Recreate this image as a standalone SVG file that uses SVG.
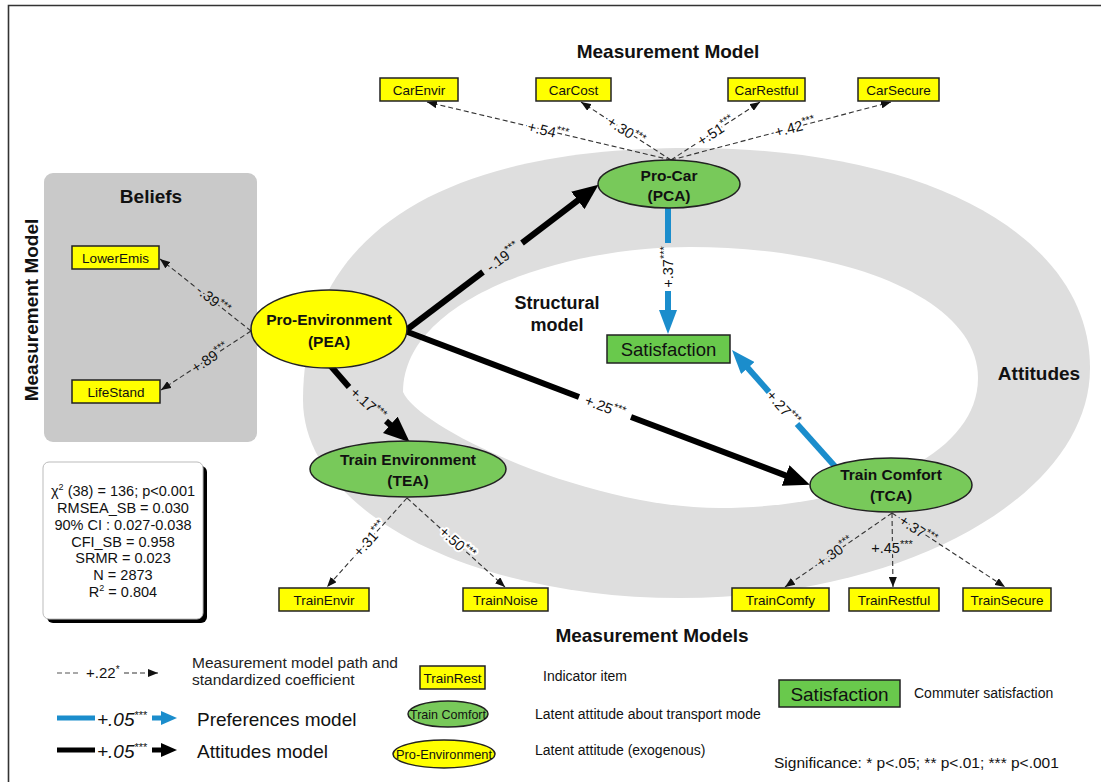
<svg xmlns="http://www.w3.org/2000/svg" width="1101" height="782" viewBox="0 0 1101 782">
<defs>
<style>
text{font-family:"Liberation Sans",Arial,sans-serif;fill:#111}
.ttl{font-size:19px;font-weight:bold;text-anchor:middle}
.box{fill:#ffff00;stroke:#222;stroke-width:1.5}
.bt{font-size:13.5px;text-anchor:middle}
.lat{fill:#78c95a;stroke:#222;stroke-width:1.5}
.exo{fill:#ffff00;stroke:#222;stroke-width:1.5}
.lt{font-size:15.5px;font-weight:bold;text-anchor:middle}
.meas{stroke:#333;stroke-width:1.1;stroke-dasharray:5 3;fill:none;marker-end:url(#ah)}
.str{stroke:#000;stroke-width:6;fill:none}
.strA{stroke:#000;stroke-width:6;fill:none;marker-end:url(#ahk)}
.pref{stroke:#1b8dcc;stroke-width:6;fill:none}
.prefA{stroke:#1b8dcc;stroke-width:6;fill:none;marker-end:url(#ahb)}
.lab{font-size:14.5px;text-anchor:middle;paint-order:stroke;stroke-width:4;stroke-linejoin:round}
.hw{stroke:#fff}
.hg{stroke:#dedede}
.hb{stroke:#c9c9c9}
.s{font-size:11px}
.fit{font-size:14.5px;text-anchor:middle}
.leg{font-size:14px}
</style>
<marker id="ah" viewBox="0 0 10 8" refX="10" refY="4" markerWidth="10" markerHeight="8" markerUnits="userSpaceOnUse" orient="auto"><path d="M0,0 L10,4 L0,8 z" fill="#111"/></marker>
<marker id="ahk" viewBox="0 0 26 22" refX="4" refY="11" markerWidth="26" markerHeight="22" markerUnits="userSpaceOnUse" orient="auto"><path d="M0,0 L26,11 L0,22 z" fill="#000"/></marker>
<marker id="ahb" viewBox="0 0 24 18" refX="4" refY="9" markerWidth="24" markerHeight="18" markerUnits="userSpaceOnUse" orient="auto"><path d="M0,0 L24,9 L0,18 z" fill="#1b8dcc"/></marker>
</defs>

<rect x="0" y="0" width="1101" height="782" fill="#fff"/>
<path d="M8.5,782 V5.5 H1101" fill="none" stroke="#333" stroke-width="1.6"/>

<g id="background">
<path d="M303,400 C303,236 438,148 690,148 C930,148 1090,237 1090,368 C1090,495 906,598 680,598 C472,598 303,512 303,400 Z" fill="#dedede"/>
<path d="M403,392 C403,300 560,247 690,247 C850,247 978,300 978,378 C978,460 850,508 720,508 C590,508 420,430 403,392 Z" fill="#fff"/>
<rect x="44" y="173" width="213" height="269" rx="9" fill="#c9c9c9"/>
</g>

<g id="titles">
<text class="ttl" x="668" y="58">Measurement Model</text>
<text class="ttl" x="652" y="642">Measurement Models</text>
<text class="ttl" transform="translate(38,310) rotate(-90)">Measurement Model</text>
<text class="ttl" x="151" y="203">Beliefs</text>
<text class="ttl" x="557" y="309" style="font-size:18px">Structural</text>
<text class="ttl" x="557" y="331" style="font-size:18px">model</text>
<text class="ttl" x="1039" y="380">Attitudes</text>
</g>

<g id="fit-stats">
<rect x="47" y="466" width="160" height="157" rx="6" fill="#000"/>
<rect x="43" y="462" width="160" height="157" rx="6" fill="#fff" stroke="#bbb" stroke-width="1"/>
<text class="fit" x="123" y="496">χ<tspan dy="-6" style="font-size:9px">2</tspan><tspan dy="6"> (38) = 136; p&lt;0.001</tspan></text>
<text class="fit" x="123" y="513">RMSEA_SB = 0.030</text>
<text class="fit" x="123" y="530">90% CI : 0.027-0.038</text>
<text class="fit" x="123" y="547">CFI_SB = 0.958</text>
<text class="fit" x="123" y="563">SRMR = 0.023</text>
<text class="fit" x="123" y="580">N = 2873</text>
<text class="fit" x="123" y="597">R<tspan dy="-6" style="font-size:9px">2</tspan><tspan dy="6"> = 0.804</tspan></text>
</g>

<g id="connectors">
<line class="meas" x1="671" y1="160" x2="427" y2="102"/>
<line class="meas" x1="671" y1="160" x2="581" y2="102"/>
<line class="meas" x1="671" y1="160" x2="760" y2="102"/>
<line class="meas" x1="671" y1="160" x2="891" y2="102"/>
<line class="meas" x1="251" y1="331" x2="160" y2="259"/>
<line class="meas" x1="251" y1="331" x2="161" y2="390"/>
<line class="meas" x1="407" y1="498" x2="327" y2="587"/>
<line class="meas" x1="407" y1="498" x2="505" y2="587"/>
<line class="meas" x1="892" y1="513" x2="785" y2="587"/>
<line class="meas" x1="892" y1="513" x2="893" y2="587"/>
<line class="meas" x1="892" y1="513" x2="1005" y2="587"/>
<line class="str" x1="405" y1="331" x2="483" y2="272"/>
<line class="strA" x1="522" y1="243" x2="581" y2="198"/>
<line class="str" x1="405" y1="331" x2="579" y2="397"/>
<line class="strA" x1="631" y1="417" x2="789.3" y2="476.9"/>
<line class="str" x1="329" y1="364" x2="349" y2="387"/>
<line class="strA" x1="386" y1="421" x2="393.3" y2="427.5"/>
<line class="pref" x1="668" y1="200" x2="668" y2="243"/>
<line class="prefA" x1="668" y1="291" x2="668" y2="314"/>
<line class="pref" x1="840" y1="472" x2="797" y2="424"/>
<line class="prefA" x1="769" y1="392" x2="745.2" y2="365"/>

<text class="lab hw" transform="translate(548,131) rotate(13.6)" y="5">+.54<tspan class="s" dy="-5">***</tspan></text>
<text class="lab hw" transform="translate(626,131) rotate(32.8)" y="5">+.30<tspan class="s" dy="-5">***</tspan></text>
<text class="lab hw" transform="translate(716,131) rotate(-33)" y="5">+.51<tspan class="s" dy="-5">***</tspan></text>
<text class="lab hw" transform="translate(795,127) rotate(-14.8)" y="5">+.42<tspan class="s" dy="-5">***</tspan></text>
<text class="lab hb" transform="translate(213,300) rotate(38.7)" y="5">-.39<tspan class="s" dy="-5">***</tspan></text>
<text class="lab hb" transform="translate(210,358) rotate(-33.2)" y="5">+.89<tspan class="s" dy="-5">***</tspan></text>
<text class="lab hw" transform="translate(370,539) rotate(-48)" y="5">+.31<tspan class="s" dy="-5">***</tspan></text>
<text class="lab hw" transform="translate(457,543) rotate(42.2)" y="5">+.50<tspan class="s" dy="-5">***</tspan></text>
<text class="lab hg" transform="translate(835,552) rotate(-34.7)" y="5">+.30<tspan class="s" dy="-5">***</tspan></text>
<text class="lab hg" transform="translate(892,548)" y="5">+.45<tspan class="s" dy="-5">***</tspan></text>
<text class="lab hg" transform="translate(918,530) rotate(33.2)" y="5">+.37<tspan class="s" dy="-5">***</tspan></text>
<text class="lab" transform="translate(503,257) rotate(-37)" y="5">-.19<tspan class="s" dy="-5">***</tspan></text>
<text class="lab" transform="translate(605,407) rotate(20.8)" y="5">+.25<tspan class="s" dy="-5">***</tspan></text>
<text class="lab" transform="translate(368,404) rotate(42.6)" y="5">+.17<tspan class="s" dy="-5">***</tspan></text>
<text class="lab" transform="translate(668,267) rotate(-90)" y="5">+.37<tspan class="s" dy="-5">***</tspan></text>
<text class="lab" transform="translate(783,408) rotate(48.6)" y="5">+.27<tspan class="s" dy="-5">***</tspan></text>
</g>

<g id="CarEnvir"><rect class="box" x="380" y="78" width="78" height="23"/><text class="bt" x="419" y="94.5">CarEnvir</text></g>
<g id="CarCost"><rect class="box" x="536" y="78" width="75" height="23"/><text class="bt" x="573.5" y="94.5">CarCost</text></g>
<g id="CarRestful"><rect class="box" x="728" y="78" width="77" height="23"/><text class="bt" x="766.5" y="94.5">CarRestful</text></g>
<g id="CarSecure"><rect class="box" x="858" y="78" width="81" height="23"/><text class="bt" x="898.5" y="94.5">CarSecure</text></g>
<g id="LowerEmis"><rect class="box" x="72" y="246" width="87" height="23"/><text class="bt" x="115.5" y="262.5">LowerEmis</text></g>
<g id="LifeStand"><rect class="box" x="72" y="380" width="88" height="23"/><text class="bt" x="116" y="396.5">LifeStand</text></g>
<g id="TrainEnvir"><rect class="box" x="279" y="588" width="90" height="23"/><text class="bt" x="324" y="604.5">TrainEnvir</text></g>
<g id="TrainNoise"><rect class="box" x="463" y="588" width="85" height="23"/><text class="bt" x="505.5" y="604.5">TrainNoise</text></g>
<g id="TrainComfy"><rect class="box" x="732" y="588" width="97" height="23"/><text class="bt" x="780.5" y="604.5">TrainComfy</text></g>
<g id="TrainRestful"><rect class="box" x="849" y="588" width="90" height="23"/><text class="bt" x="894" y="604.5">TrainRestful</text></g>
<g id="TrainSecure"><rect class="box" x="963" y="588" width="88" height="23"/><text class="bt" x="1007" y="604.5">TrainSecure</text></g>

<g id="PCA"><ellipse class="lat" cx="669" cy="184" rx="71" ry="24"/><text class="lt" x="669" y="181">Pro-Car</text><text class="lt" x="669" y="201">(PCA)</text></g>
<g id="PEA"><ellipse class="exo" cx="329" cy="329" rx="78" ry="39"/><text class="lt" x="329" y="325">Pro-Environment</text><text class="lt" x="329" y="347">(PEA)</text></g>
<g id="TEA"><ellipse class="lat" cx="408" cy="469" rx="98" ry="28"/><text class="lt" x="408" y="465">Train Environment</text><text class="lt" x="408" y="486">(TEA)</text></g>
<g id="TCA"><ellipse class="lat" cx="891" cy="485" rx="81" ry="27"/><text class="lt" x="891" y="480">Train Comfort</text><text class="lt" x="891" y="501">(TCA)</text></g>
<g id="Satisfaction"><rect x="607" y="335" width="123" height="28" fill="#69c94c" stroke="#222" stroke-width="1.5"/><text x="668.5" y="356" style="font-size:18.5px;text-anchor:middle">Satisfaction</text></g>

<g id="legend">
<line x1="57" y1="673" x2="80" y2="673" stroke="#555" stroke-width="1.1" stroke-dasharray="5 3"/>
<text x="86" y="678" style="font-size:15px">+.22<tspan dy="-5" style="font-size:10px">*</tspan></text>
<line class="meas" x1="124" y1="673" x2="158" y2="673"/>
<text x="192" y="668" style="font-size:15.5px;fill:#222">Measurement model path and</text>
<text x="192" y="685" style="font-size:15.5px;fill:#222">standardized coefficient</text>

<line x1="57" y1="718" x2="95" y2="718" stroke="#1b8dcc" stroke-width="5"/>
<text x="97" y="726" style="font-size:19px;font-style:italic">+.05<tspan dy="-7" style="font-size:11px;font-style:normal">***</tspan></text>
<rect x="152" y="715.5" width="11" height="5" fill="#1b8dcc"/>
<path d="M161,711 L177,718 L161,725 z" fill="#1b8dcc"/>
<text x="197" y="726" style="font-size:19px">Preferences model</text>

<line x1="57" y1="750" x2="95" y2="750" stroke="#000" stroke-width="5"/>
<text x="97" y="758" style="font-size:19px;font-style:italic">+.05<tspan dy="-7" style="font-size:11px;font-style:normal">***</tspan></text>
<rect x="152" y="747.5" width="11" height="5" fill="#000"/>
<path d="M161,743 L177,750 L161,757 z" fill="#000"/>
<text x="197" y="758" style="font-size:19px">Attitudes model</text>

<rect class="box" x="420" y="666" width="65" height="23"/>
<text class="bt" x="452.5" y="682.5">TrainRest</text>
<text class="leg" x="543" y="681">Indicator item</text>

<ellipse class="lat" cx="448" cy="714" rx="40" ry="13"/>
<text x="448" y="718.5" style="font-size:13px;text-anchor:middle" textLength="76" lengthAdjust="spacingAndGlyphs">Train Comfort</text>
<text class="leg" x="535" y="719">Latent attitude about transport mode</text>

<ellipse class="exo" cx="444" cy="754" rx="51" ry="14"/>
<text x="444" y="758.5" style="font-size:13px;text-anchor:middle" textLength="96" lengthAdjust="spacingAndGlyphs">Pro-Environment</text>
<text class="leg" x="535" y="755">Latent attitude (exogenous)</text>

<rect x="779" y="680" width="121" height="27" fill="#69c94c" stroke="#222" stroke-width="1.5"/>
<text x="839.5" y="700.5" style="font-size:19px;text-anchor:middle">Satisfaction</text>
<text class="leg" x="914" y="698">Commuter satisfaction</text>
<text x="774" y="768" style="font-size:15.5px">Significance: * p&lt;.05; ** p&lt;.01; *** p&lt;.001</text>
</g>
</svg>
